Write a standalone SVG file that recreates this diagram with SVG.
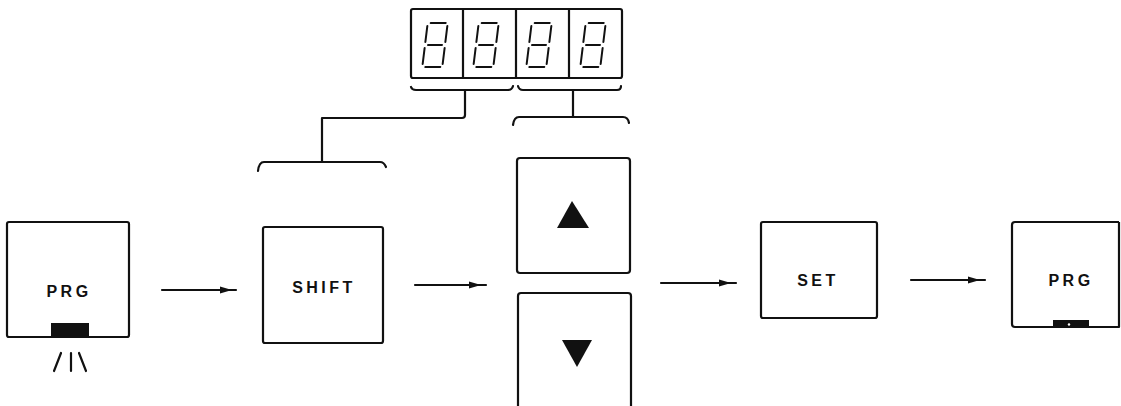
<svg xmlns="http://www.w3.org/2000/svg" width="1121" height="406" viewBox="0 0 1121 406">
<style>
.box{fill:none;stroke:#111;stroke-width:2.2;stroke-linejoin:round}
.ln{fill:none;stroke:#111;stroke-width:2.2;stroke-linecap:round;stroke-linejoin:round}
.seg{fill:none;stroke:#111;stroke-width:2;stroke-linecap:round}
.lbl{font-family:"Liberation Sans",Arial,sans-serif;font-size:16px;font-weight:bold;fill:#111;letter-spacing:3.5px;text-anchor:middle}
.head{fill:#111}
</style>
<defs>
<g id="digit">
<path class="seg" d="M-7,-22H8 M-10,-19V-3 M10,-19V-3 M-7,0H7 M-10,3V19 M10,3V19 M-7,22H8"/>
</g>
</defs>
<rect width="1121" height="406" fill="#fff"/>

<g id="display">
<rect class="box" x="411" y="9" width="211" height="69" rx="2"/>
<path class="ln" d="M463,10V77 M516,10V77 M569,10V77"/>
<use href="#digit" transform="translate(435,45) skewX(-7)"/>
<use href="#digit" transform="translate(486,45) skewX(-7)"/>
<use href="#digit" transform="translate(539,45) skewX(-7)"/>
<use href="#digit" transform="translate(593,45) skewX(-7)"/>
</g>

<g id="brackets">
<path class="ln" d="M411,87 Q412,90 416,90 H508 Q512,90 513,86"/>
<path class="ln" d="M518,86 Q519,90 523,90 H617 Q621,90 621,86"/>
<path class="ln" d="M465,90 V115 Q465,118 462,118 H322 V162"/>
<path class="ln" d="M258,171 Q259,162 264,162 H380 Q384,162 386,167"/>
<path class="ln" d="M573,90 V117"/>
<path class="ln" d="M513,125 Q514,117 519,117 H623 Q628,117 629,123"/>
</g>

<g id="prg1">
<rect class="box" x="7" y="222" width="122" height="115" rx="2"/>
<text class="lbl" x="69" y="297">PRG</text>
<rect x="51" y="323" width="38" height="14" fill="#111"/>
<path class="ln" d="M61,353 L54,371 M71,353 V371 M79,353 L86,371"/>
</g>

<g id="shift">
<rect class="box" x="263" y="227" width="120" height="116" rx="2"/>
<text class="lbl" x="324" y="293">SHIFT</text>
</g>

<g id="up">
<rect class="box" x="517" y="158" width="113" height="115" rx="3"/>
<polygon class="head" points="572,201 589,228 557,228"/>
</g>

<g id="down">
<path class="box" d="M518,407 V296 Q518,293 521,293 H628 Q631,293 631,296 V407"/>
<polygon class="head" points="562,340 592,340 577,367"/>
</g>

<g id="set">
<rect class="box" x="761" y="222" width="116" height="96" rx="2"/>
<text class="lbl" x="818" y="286">SET</text>
</g>

<g id="prg2">
<path class="box" d="M1119,222 H1015 Q1012,222 1012,225 V324 Q1012,327 1015,327 H1119 V222"/>
<text class="lbl" x="1071" y="286">PRG</text>
<rect x="1053" y="320" width="36" height="7" fill="#111"/>
<circle cx="1069" cy="324.5" r="1.2" fill="#fff"/>
</g>

<g id="connectors">
<path class="ln" d="M162,290 H236"/>
<polygon class="head" points="232,290 220,286.5 220,293.5"/>
<path class="ln" d="M415,285 H486"/>
<polygon class="head" points="481,285 469,281.5 469,288.5"/>
<path class="ln" d="M661,283 H736"/>
<polygon class="head" points="731,283 719,279.5 719,286.5"/>
<path class="ln" d="M911,280 H985"/>
<polygon class="head" points="980,280 968,276.5 968,283.5"/>
</g>
</svg>
